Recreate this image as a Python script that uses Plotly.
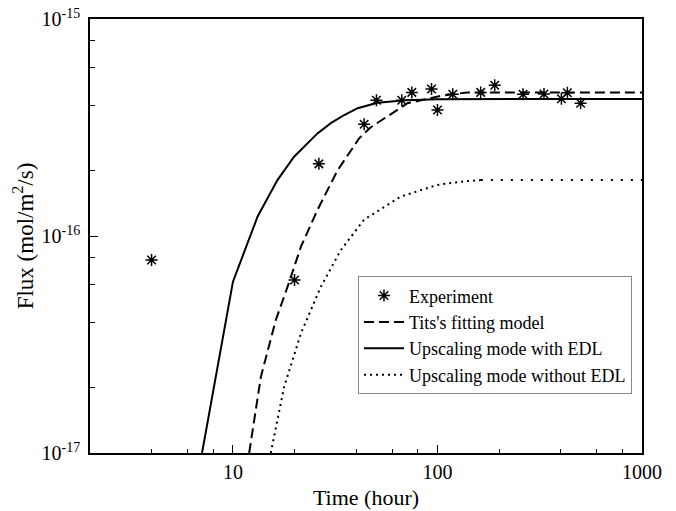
import plotly.graph_objects as go

# Experimental data
exp_t = [4, 20, 26.3, 43.8, 50.3, 66.9, 74.9, 93.5, 100, 118.8, 162.7, 190.5, 261.9, 331.7, 403.5, 431.7, 501]
exp_flux = [7.75e-17, 6.27e-17, 2.15e-16, 3.27e-16, 4.22e-16, 4.22e-16, 4.59e-16, 4.76e-16, 3.81e-16,
            4.5e-16, 4.59e-16, 4.95e-16, 4.5e-16, 4.51e-16, 4.29e-16, 4.57e-16, 4.09e-16]

# Tits's fitting model
tits_t = [12.0, 13.7, 16.2, 18.5, 21.5, 25.9, 32.5, 41.4, 47.2, 71.3, 103.8, 140, 1000]
tits_flux = [1.0e-17, 2.25e-17, 4.1e-17, 5.84e-17, 8.93e-17, 1.32e-16, 2.01e-16, 2.82e-16, 3.17e-16,
             4.09e-16, 4.42e-16, 4.59e-16, 4.59e-16]

# Upscaling model with EDL
edl_t = [7.06, 10.0, 13.2, 16.5, 19.9, 25.9, 30.1, 35.0, 40.7, 50.9, 70, 100, 1000]
edl_flux = [1.0e-17, 6.16e-17, 1.23e-16, 1.81e-16, 2.32e-16, 2.97e-16, 3.31e-16, 3.61e-16, 3.88e-16,
            4.11e-16, 4.22e-16, 4.27e-16, 4.28e-16]

# Upscaling model without EDL
noedl_t = [15.3, 17.8, 21.5, 26.9, 33.7, 43.8, 66.2, 100, 130, 163]
noedl_flux = [1.0e-17, 2.02e-17, 3.56e-17, 5.84e-17, 8.62e-17, 1.19e-16, 1.52e-16, 1.72e-16, 1.78e-16, 1.81e-16]
noedl_ext_t = [163, 1000]
noedl_ext_flux = [1.81e-16, 1.81e-16]

x_ticks = [10, 100, 1000]
x_ticktext = ["10", "100", "1000"]
x_minor = [4, 6, 8, 20, 40, 60, 80, 200, 400, 600, 800]
y_ticks = [1e-17, 1e-16, 1e-15]
y_ticktext = ["10<sup>-17</sup>", "10<sup>-16</sup>", "10<sup>-15</sup>"]
y_minor = [2e-17, 4e-17, 6e-17, 8e-17, 2e-16, 4e-16, 6e-16, 8e-16]

FONT = "Liberation Serif"

fig = go.Figure()
fig.add_trace(go.Scatter(x=exp_t, y=exp_flux, mode="markers", name="Experiment",
                         marker=dict(symbol="asterisk-open", size=10, color="black",
                                     line=dict(color="black", width=1.5))))
fig.add_trace(go.Scatter(x=tits_t, y=tits_flux, mode="lines", name="Tits's fitting model",
                         line=dict(color="black", width=2, dash="10px,5px")))
fig.add_trace(go.Scatter(x=edl_t, y=edl_flux, mode="lines", name="Upscaling mode with EDL",
                         line=dict(color="black", width=2)))
fig.add_trace(go.Scatter(x=noedl_t, y=noedl_flux, mode="lines", name="Upscaling mode without EDL",
                         legendgroup="noedl",
                         line=dict(color="black", width=2, dash="2px,4px")))
fig.add_trace(go.Scatter(x=noedl_ext_t, y=noedl_ext_flux, mode="lines", showlegend=False,
                         legendgroup="noedl",
                         line=dict(color="black", width=2, dash="2px,8px")))

axis_common = dict(showline=True, linecolor="black", linewidth=1.5, mirror=True,
                   ticks="inside", ticklen=8, tickwidth=1.2, tickcolor="black",
                   showgrid=False, zeroline=False, automargin=False,
                   tickfont=dict(family=FONT, size=20, color="black"))

fig.update_xaxes(type="log", range=[0.30103, 3], tickmode="array", tickvals=x_ticks, ticktext=x_ticktext,
                 minor=dict(tickvals=x_minor, ticks="inside", ticklen=4, tickwidth=1.2, tickcolor="black"),
                 title=dict(text="Time (hour)", font=dict(family=FONT, size=22, color="black"), standoff=8),
                 **axis_common)
fig.update_yaxes(type="log", range=[-17, -15], tickmode="array", tickvals=y_ticks, ticktext=y_ticktext,
                 ticklabelstandoff=4,
                 minor=dict(tickvals=y_minor, ticks="inside", ticklen=5, tickwidth=1.2, tickcolor="black"),
                 title=dict(text="Flux (mol/m<sup>2</sup>/s)", font=dict(family=FONT, size=23, color="black"), standoff=2),
                 **axis_common)

fig.update_layout(
    width=676, height=511,
    margin=dict(l=90, r=34, t=19, b=58),
    plot_bgcolor="white", paper_bgcolor="white",
    font=dict(family=FONT, color="black"),
    legend=dict(x=0.4855, y=0.407, xanchor="left", yanchor="top",
                bordercolor="#888888", borderwidth=1, bgcolor="white",
                font=dict(family=FONT, size=18, color="black"),
                tracegroupgap=0, itemwidth=40),
)

fig.write_html("out.html")
